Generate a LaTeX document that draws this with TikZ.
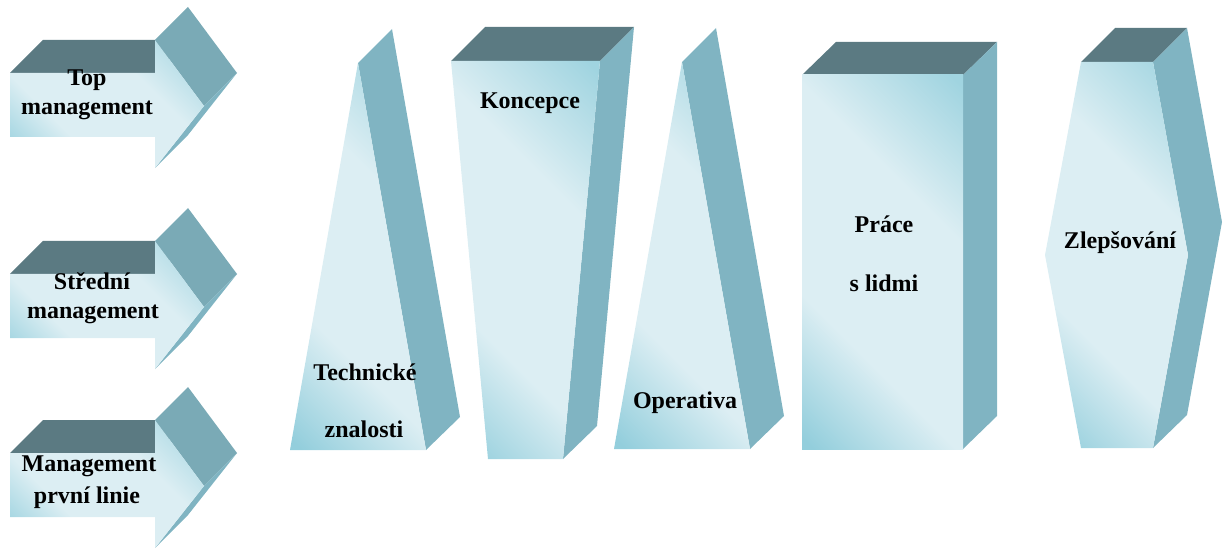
\documentclass[tikz,border=0pt]{standalone}
\usepackage{fontspec}
\setmainfont{Liberation Serif}
\definecolor{topc}{HTML}{5B7A82}
\definecolor{sidec}{HTML}{80B4C2}
\definecolor{headc}{HTML}{7AAAB6}
\definecolor{fdark}{HTML}{93CEDC}
\definecolor{fmid}{HTML}{A0D4E0}
\definecolor{flight}{HTML}{DCEEF3}
\pgfdeclarehorizontalshading{facesh}{100bp}{color(0bp)=(fdark); color(16bp)=(fdark); color(35bp)=(flight); color(63bp)=(flight); color(84bp)=(fmid); color(100bp)=(fmid)}
\tikzset{
  topface/.style={fill=topc},
  sideface/.style={fill=sidec},
  headface/.style={fill=headc},
  frontface/.style={shading=facesh, shading angle=45},
  lbl/.style={font=\fontsize{24}{29}\selectfont\bfseries, anchor=base, inner sep=0pt}
}
\newcommand{\myarrow}[1]{%
  \begin{scope}[shift={(0,#1)}]
    \fill[topface] (10,73) -- (155,73) -- (188,40) -- (43,40) -- cycle;
    \fill[headface] (155,40) -- (188,7) -- (237,73) -- (204,106) -- cycle;
    \fill[sideface] (204,106) -- (237,73) -- (188,135) -- (155,168) -- cycle;
    \shade[frontface] (10,73) -- (155,73) -- (155,40) -- (204,106) -- (155,168) -- (155,137) -- (10,137) -- cycle;
  \end{scope}}
\begin{document}
\begin{tikzpicture}[x=1pt,y=-1pt]
\useasboundingbox (0,0) rectangle (1227,548);
% arrows
\myarrow{0}
\myarrow{201}
\myarrow{380}
\node[lbl] (a1) at (87,86) {Top};
\node[lbl] (a1b) at (87,115) {management};
\node[lbl] (a2) at (92,290) {Střední};
\node[lbl] (a2b) at (93,319) {management};
\node[lbl] (a3) at (89,471) {Management};
\node[lbl] (a3b) at (87,503) {první linie};
% Technicke
\fill[sideface] (358,63) -- (392,29) -- (460,417) -- (426,450) -- cycle;
\shade[frontface] (358,63) -- (426,450) -- (290,450) -- cycle;
\node[lbl] (t1) at (365,380) {Technické};
\node[lbl] (t2) at (364,437) {znalosti};
% Koncepce
\fill[topface] (451,61) -- (600,61) -- (634,27) -- (485,27) -- cycle;
\fill[sideface] (600,61) -- (634,27) -- (597,426) -- (563,459) -- cycle;
\shade[frontface] (451,61) -- (600,61) -- (563,459) -- (488,459) -- cycle;
\node[lbl] (k) at (530,109) {Koncepce};
% Operativa
\fill[sideface] (682,62) -- (716,28) -- (784,416) -- (750,449) -- cycle;
\shade[frontface] (682,62) -- (750,449) -- (614,449) -- cycle;
\node[lbl] (o) at (685,408) {Operativa};
% Prace
\fill[topface] (802,75) -- (963,75) -- (997,42) -- (836,42) -- cycle;
\fill[sideface] (963,75) -- (997,42) -- (997,416) -- (963,449) -- cycle;
\shade[frontface] (802,75) -- (963,75) -- (963,449) -- (802,449) -- cycle;
\node[lbl] (p1) at (884,233) {Práce};
\node[lbl] (p2) at (884,291) {s lidmi};
% Zlepsovani
\fill[topface] (1081,62) -- (1153,62) -- (1187,28) -- (1115,28) -- cycle;
\fill[sideface] (1153,62) -- (1187,28) -- (1222,222) -- (1187,415) -- (1153,448) -- (1188,255) -- cycle;
\shade[frontface] (1081,62) -- (1153,62) -- (1188,255) -- (1153,448) -- (1081,448) -- (1045,255) -- cycle;
\node[lbl] (z) at (1120,249) {Zlepšování};
\end{tikzpicture}
\end{document}
